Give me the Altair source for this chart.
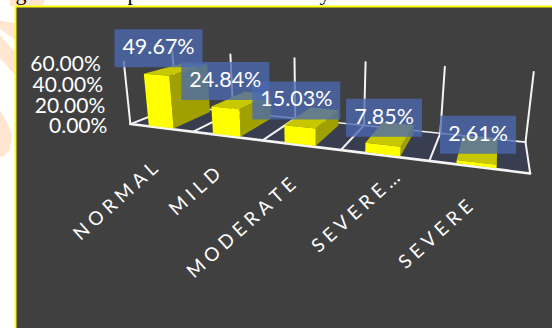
import altair as alt
import numpy as np
import pandas as pd

# Severity categories and their shares, in percent
categories = ["NORMAL", "MILD", "MODERATE", "SEVERE…", "SEVERE"]
shares = [49.67, 24.84, 15.03, 7.85, 2.61]
axis_ticks = [0, 20, 40, 60]
axis_max = 60

W, H = 552, 328
PANEL_FILL = "#404040"
FLOOR_FILL = "#393d50"
FRONT, TOP, SIDE = "#ffff00", "#c8c800", "#a0a000"
BOX_FILL, BOX_ALPHA = "#4a69b0", 0.78

# Camera for the tilted plot box: (slot, depth, height) -> screen, fitted by least squares
calibration = (
    [((i, 0, 0), p) for i, p in enumerate([(129, 126), (195, 132), (263, 139), (341, 149), (429, 160), (530, 174)])]
    + [((i, 1, 0), p) for i, p in enumerate([(176, 104), (233, 111), (296, 118), (364, 127), (439, 135), (526, 143)])]
    + [((i, 1, 1), p) for i, p in enumerate([(173, 52), (231, 55), (294, 58), (365, 62), (445, 66), (534, 71)])]
    + [((0, 0, 1), (123, 62))]
)
rows, rhs = [], []
for (u, v, h), (sx, sy) in calibration:
    rows.append([u, v, h, 1, 0, 0, 0, 0, -sx * u, -sx * v, -sx * h])
    rhs.append(sx)
    rows.append([0, 0, 0, 0, u, v, h, 1, -sy * u, -sy * v, -sy * h])
    rhs.append(sy)
cam = np.append(np.linalg.lstsq(np.array(rows, float), np.array(rhs, float), rcond=None)[0], 1.0).reshape(3, 4)


def project(u, v, h):
    x, y, w = cam @ np.array([u, v, h, 1.0])
    return [float(x / w), float(y / w)]


def polygon(corners, fill, opacity=1.0):
    ring = [list(c) for c in corners] + [list(corners[0])]
    return {
        "type": "Feature",
        "geometry": {"type": "Polygon", "coordinates": [ring]},
        "properties": {"fill": fill, "alpha": opacity},
    }


# Faint page decoration left of the panel
page_art = [
    polygon([(0, 21), (15, 23), (15, 40), (0, 29)], "#ffe6d0"),
    polygon([(0, 35), (15, 52), (15, 75), (0, 58)], "#ffe6d0"),
    polygon([(0, 110), (7, 122), (12, 135), (10, 150), (4, 156), (0, 157)], "#ffe6d0"),
    polygon([(10, 0), (45, 0), (43, 6), (10, 6)], "#ffe6d0"),
]
panel = [
    polygon([(14.5, 5.5), (W, 5.5), (W, H), (14.5, H)], "#ffff00"),
    polygon([(16.5, 7.5), (W, 7.5), (W, H), (16.5, H)], PANEL_FILL),
]
floor = [polygon([project(0, 0, 0), project(5, 0, 0), project(5, 1, 0), project(0, 1, 0)], FLOOR_FILL)]

# Three visible faces per bar; drawn left to right so nearer bars overlap
U0, U1, V0, V1 = 0.28, 0.68, 0.03, 0.88
bars = []
for i, share in enumerate(shares):
    h = share / axis_max
    a, b = i + U0, i + U1
    bars.append(polygon([project(b, V0, 0), project(b, V1, 0), project(b, V1, h), project(b, V0, h)], SIDE))
    bars.append(polygon([project(a, V0, h), project(b, V0, h), project(b, V1, h), project(a, V1, h)], TOP))
    bars.append(polygon([project(a, V0, 0), project(b, V0, 0), project(b, V0, h), project(a, V0, h)], FRONT))


def shapes(features):
    return (
        alt.Chart(alt.Data(values=features))
        .mark_geoshape(filled=True, strokeWidth=0)
        .encode(
            fill=alt.Fill("properties.fill:N", scale=None),
            opacity=alt.Opacity("properties.alpha:Q", scale=None),
        )
        .project(type="identity", scale=1, translate=[0, 0])
    )


X = alt.X("x:Q", scale=alt.Scale(domain=[0, W], range=[0, W]), axis=None)
Y = alt.Y("y:Q", scale=alt.Scale(domain=[0, H], range=[0, H]), axis=None)

# White frame of the plot box
segments = [
    ((0, 0, 0), (5, 0, 0), 2.6),
    ((0, 0, 0), (0, 1, 0), 2),
    ((0, 1, 0), (5, 1, 0), 1.6),
    ((5, 0, 0), (5, 1, 0), 2),
    ((0, 0, 0), (0, 0, 1), 2),
]
segments += [((i, 0, 0), (i, 1, 0), 2) for i in range(1, 5)]
segments += [((i, 1, 0), (i, 1, 1), 2) for i in range(6)]
frame_rows = []
for s, e, w in segments:
    p, q = project(*s), project(*e)
    frame_rows.append({"x": p[0], "y": p[1], "x2": q[0], "y2": q[1], "w": w})
frame = (
    alt.Chart(pd.DataFrame(frame_rows))
    .mark_rule(color="#f4f4f4", strokeCap="round")
    .encode(x=X, y=Y, x2="x2:Q", y2="y2:Q", strokeWidth=alt.StrokeWidth("w:Q", scale=None))
)

# Value boxes sit up and to the left of each bar's top
box_shift = [(-16, -21.5), (-15, -20), (-15, -18), (-6, -17), (0, -16)]
box_rows = []
for i, share in enumerate(shares):
    cx, cy = project(i + 0.48, 0.4, share / axis_max)
    cx, cy = cx + box_shift[i][0], cy + box_shift[i][1]
    text = f"{share:.2f}%"
    half = (12 * len(text) + 16) / 2
    box_rows.append({"x": cx - half, "x2": cx + half, "y": cy - 19, "y2": cy + 19, "cx": cx, "cy": cy, "text": text})
boxes_df = pd.DataFrame(box_rows)
boxes = (
    alt.Chart(boxes_df)
    .mark_rect(color=BOX_FILL, opacity=BOX_ALPHA)
    .encode(x=X, x2="x2:Q", y=Y, y2="y2:Q")
)
box_text = (
    alt.Chart(boxes_df)
    .mark_text(font="Lato", fontSize=21.5, color="white", align="center", baseline="middle")
    .encode(
        x=alt.X("cx:Q", scale=alt.Scale(domain=[0, W], range=[0, W]), axis=None),
        y=alt.Y("cy:Q", scale=alt.Scale(domain=[0, H], range=[0, H]), axis=None),
        text="text:N",
    )
)

# Percent axis labels follow the leaning left edge of the box
tick_rows = []
for t in axis_ticks:
    sx, sy = project(0, 0, t / axis_max)
    tick_rows.append({"x": sx - 23, "y": sy + 3, "text": f"{t:.2f}%"})
tick_text = (
    alt.Chart(pd.DataFrame(tick_rows))
    .mark_text(font="Lato", fontSize=21, color="white", align="right", baseline="middle")
    .encode(x=X, y=Y, text="text:N")
)

# Slanted, widely tracked category labels, anchored at their upper-right end
label_ends = [(155, 166), (218, 171), (293, 182), (397, 175), (470, 204)]
cat_rows = [
    {"x": e[0], "y": e[1], "text": "\u2009\u2009".join(c)}
    for c, e in zip(categories, label_ends)
]
cat_text = (
    alt.Chart(pd.DataFrame(cat_rows))
    .mark_text(font="Lato", fontSize=19, color="white", align="right", baseline="middle", angle=318)
    .encode(x=X, y=Y, text="text:N")
)

# Descenders of the caption line that runs above the panel
caption_rows = [{"x": 21, "y": 0, "text": "g"}, {"x": 133, "y": 0, "text": "p"}, {"x": 325, "y": 0, "text": "y"}]
caption = (
    alt.Chart(pd.DataFrame(caption_rows))
    .mark_text(font="Liberation Serif", fontSize=22, color="black", align="center", baseline="alphabetic")
    .encode(x=X, y=Y, text="text:N")
)

chart = (
    alt.layer(
        shapes(page_art),
        caption,
        shapes(panel),
        shapes(floor),
        frame,
        shapes(bars),
        boxes,
        box_text,
        tick_text,
        cat_text,
    )
    .properties(width=W, height=H, background="white", padding=0, autosize=alt.AutoSizeParams(type="none"))
    .configure_view(stroke=None)
)

chart.save("out.html", embed_options={"renderer": "svg", "actions": False})
